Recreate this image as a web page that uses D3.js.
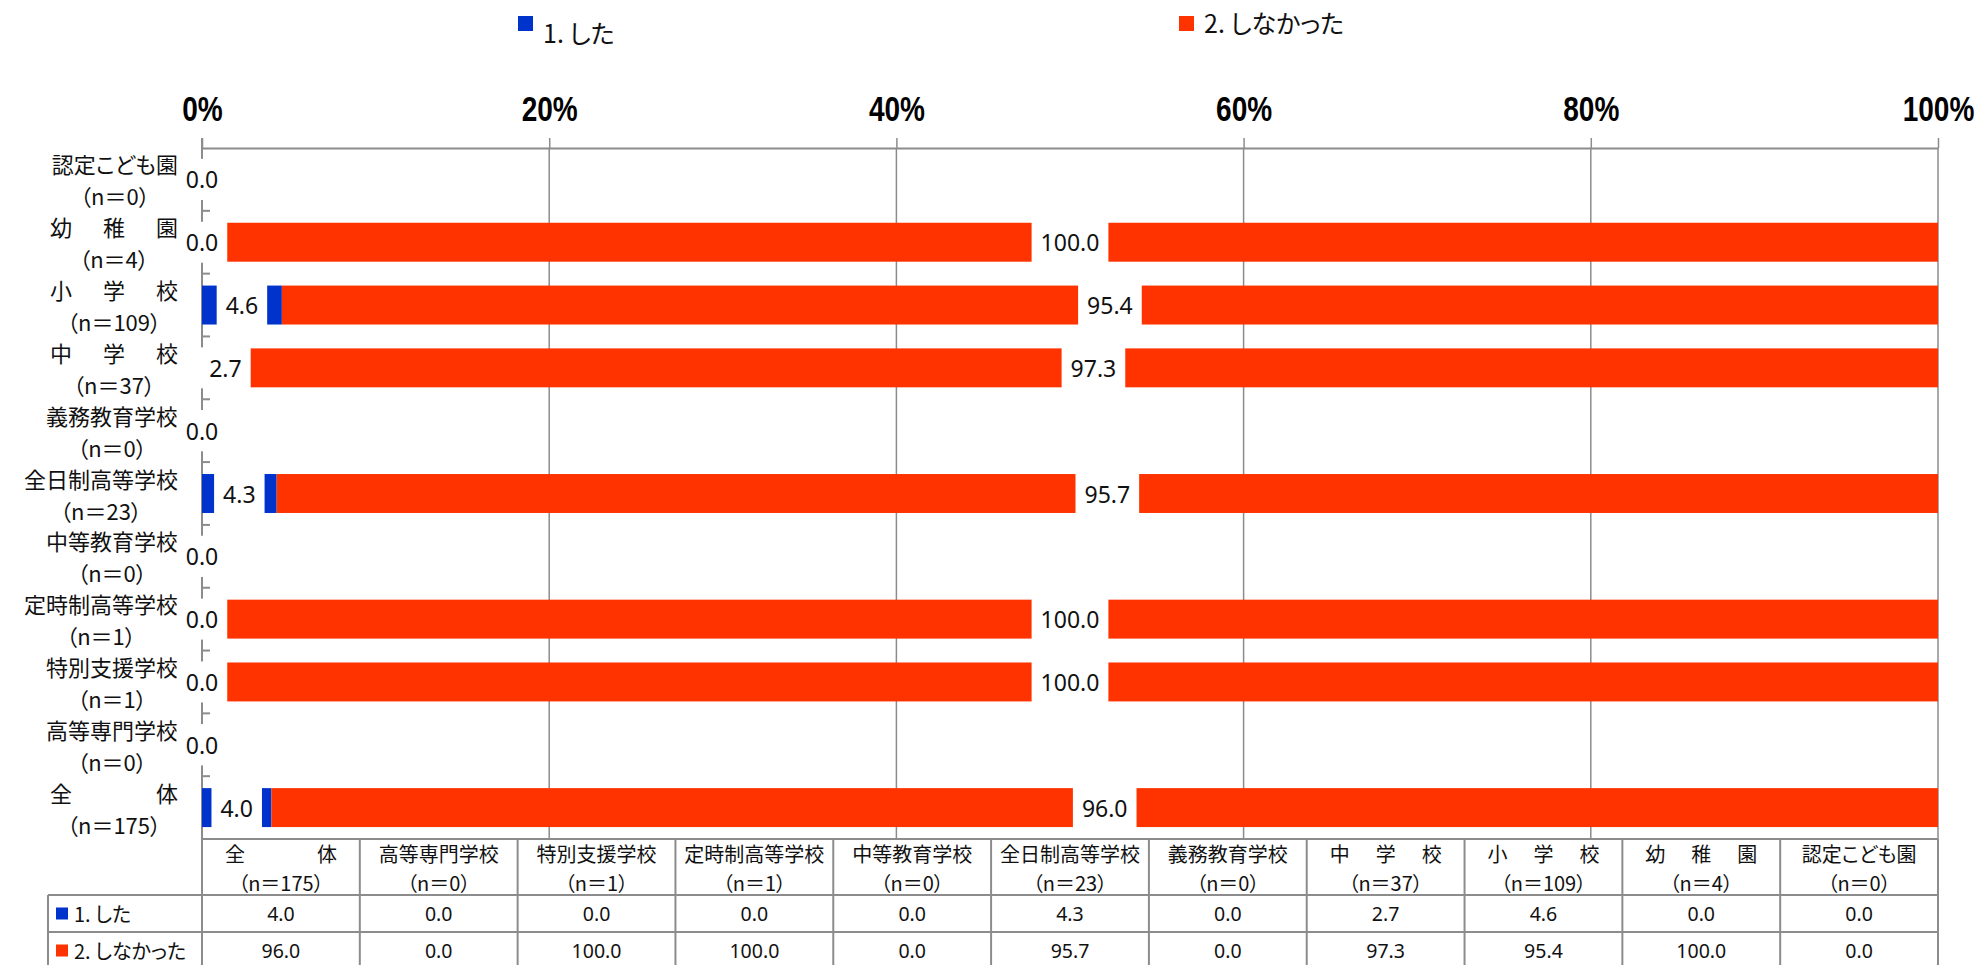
<!DOCTYPE html>
<html>
<head>
<meta charset="utf-8">
<script src="https://cdn.jsdelivr.net/npm/d3@7"></script>
<style>
  body { margin: 0; background: #fff; }
  svg { display: block; }
  text.jp { font-feature-settings: 'palt' 1; }
</style>
</head>
<body>
<svg id="chart"></svg>
<script>
// data, in the order of the data table (the chart draws it bottom -> top)
let categories = ['全　　体', '高等専門学校', '特別支援学校', '定時制高等学校', '中等教育学校',
                  '全日制高等学校', '義務教育学校', '中　学　校', '小　学　校', '幼　稚　園', '認定こども園']
let nLabels = ['（n＝175）', '（n＝0）', '（n＝1）', '（n＝1）', '（n＝0）',
               '（n＝23）', '（n＝0）', '（n＝37）', '（n＝109）', '（n＝4）', '（n＝0）']
let seriesNames = ['1. した', '2. しなかった']
let did = [4.0, 0.0, 0.0, 0.0, 0.0, 4.3, 0.0, 2.7, 4.6, 0.0, 0.0]
let didNot = [96.0, 0.0, 100.0, 100.0, 0.0, 95.7, 0.0, 97.3, 95.4, 100.0, 0.0]
let xTicks = [0, 20, 40, 60, 80, 100]

let colors = ['#0033cc', '#ff3300']
let gray = '#8c8c8c'
let jp = "'Noto Sans CJK JP', 'Noto Sans', sans-serif"
let num = "'Noto Sans', 'Noto Sans CJK JP', sans-serif"

let width = 1979
let height = 965
let plotLeft = 202
let plotRight = 1938
let plotTop = 148
let plotBottom = 839

let svg = d3.select('#chart')
            .attr('width', width)
            .attr('height', height)

let x = d3.scaleLinear()
          .domain([0, 100])
          .range([plotLeft, plotRight])

// first category at the bottom
let y = d3.scaleBand()
          .domain(categories.slice().reverse())
          .range([plotTop, plotBottom])
          .padding(0)

let col = d3.scaleBand()
            .domain(categories)
            .range([plotLeft, plotRight])
            .padding(0)

let barH = y.bandwidth() * 0.62
let barY = (c) => y(c) + (y.bandwidth() - barH) / 2

let jpText = (g, str, px, py, size) => {
    return g.append('text')
            .attr('class', 'jp')
            .attr('x', px)
            .attr('y', py)
            .attr('text-anchor', 'middle')
            .attr('dominant-baseline', 'central')
            .style('font-family', jp)
            .style('font-size', size + 'px')
            .attr('fill', '#111')
            .text(str)
}

// labels with full-width spaces are spread over spreadWidth
let isSpread = (text) => text.indexOf('　') >= 0

let drawLabel = (g, text, cx, cy, size, spreadWidth) => {
    if (isSpread(text)) {
        let chars = text.split('').filter(ch => ch !== '　')
        let step = (spreadWidth - size) / (chars.length - 1)
        chars.forEach((ch, i) => {
            jpText(g, ch, cx - spreadWidth / 2 + size / 2 + i * step, cy, size)
        })
    } else {
        jpText(g, text, cx, cy, size)
    }
}

let textWidth = (str, size) => {
    let t = jpText(svg, str, 0, 0, size)
    let w = t.node().getComputedTextLength()
    t.remove()
    return w
}

let drawLegend = () => {
    let items = [{x: 518, ty: 32}, {x: 1179, ty: 22}]
    items.forEach((it, i) => {
        svg.append('rect')
           .attr('x', it.x)
           .attr('y', 16)
           .attr('width', 15)
           .attr('height', 15)
           .attr('fill', colors[i])
        jpText(svg, seriesNames[i], it.x + 25, it.ty, 25)
           .attr('text-anchor', 'start')
    })
}

let drawGrid = () => {
    svg.append('g')
       .selectAll('line')
       .data(xTicks.slice(1))
       .enter()
       .append('line')
       .attr('x1', d => x(d))
       .attr('x2', d => x(d))
       .attr('y1', plotTop)
       .attr('y2', plotBottom)
       .attr('stroke', gray)
       .attr('stroke-width', 1.5)

    let xAxis = d3.axisTop(x)
                  .tickValues(xTicks)
                  .tickFormat(d => d + '%')
                  .tickSize(10)
                  .tickSizeOuter(0)
                  .tickPadding(17)

    let gx = svg.append('g')
                .attr('transform', 'translate(0, ' + plotTop + ')')
                .call(xAxis)
    gx.select('.domain').attr('stroke', gray).attr('stroke-width', 2)
    gx.selectAll('.tick line').attr('stroke', gray).attr('stroke-width', 1.5)
    // narrow bold look: squeeze a bold sans horizontally
    gx.selectAll('.tick text')
      .attr('fill', '#000')
      .attr('transform', 'scale(0.8, 1)')
      .style('font-family', "'Liberation Sans', Arial, sans-serif")
      .style('font-weight', 'bold')
      .style('font-size', '35px')

    // category axis
    svg.append('line')
       .attr('x1', plotLeft)
       .attr('x2', plotLeft)
       .attr('y1', plotTop - 10)
       .attr('y2', plotBottom)
       .attr('stroke', gray)
       .attr('stroke-width', 2)

    svg.append('g')
       .selectAll('line')
       .data(y.domain().slice(1))
       .enter()
       .append('line')
       .attr('x1', plotLeft)
       .attr('x2', plotLeft + 8)
       .attr('y1', d => y(d))
       .attr('y2', d => y(d))
       .attr('stroke', gray)
       .attr('stroke-width', 2)

    let size = 22
    let spread = 128
    let gl = svg.append('g')
    categories.forEach((c, i) => {
        let cy = y(c) + y.bandwidth() / 2
        let w1 = isSpread(c) ? spread : textWidth(c, size)
        let w2 = textWidth(nLabels[i], size)
        let cx = 178 - Math.max(w1, w2) / 2
        drawLabel(gl, c, cx, cy - 16, size, spread)
        drawLabel(gl, nLabels[i], cx, cy + 16, size, 0)
    })
}

let drawBars = () => {
    let rows = categories.map((c, i) => ({c: c, v: [did[i], didNot[i]]}))
    let segs = []
    rows.forEach(r => {
        let start = 0
        r.v.forEach((v, s) => {
            segs.push({c: r.c, s: s, x0: start, v: v})
            start += v
        })
    })

    svg.append('g')
       .selectAll('rect')
       .data(segs)
       .enter()
       .append('rect')
       .attr('x', d => x(d.x0))
       .attr('width', d => x(d.x0 + d.v) - x(d.x0))
       .attr('y', d => barY(d.c))
       .attr('height', barH)
       .attr('fill', d => colors[d.s])

    let gLab = svg.append('g')
    segs.forEach(d => {
        let cx = x(d.x0 + d.v / 2)
        let cy = y(d.c) + y.bandwidth() / 2
        let g = gLab.append('g')
        let box = g.append('rect').attr('fill', '#fff')
        let t = g.append('text')
                 .attr('x', cx)
                 .attr('y', cy)
                 .attr('text-anchor', 'middle')
                 .attr('dominant-baseline', 'central')
                 .style('font-family', num)
                 .style('font-size', '23px')
                 .attr('fill', '#111')
                 .text(d.v.toFixed(1))
        let w = t.node().getComputedTextLength() + 18
        box.attr('x', cx - w / 2)
           .attr('y', barY(d.c) - 1)
           .attr('width', w)
           .attr('height', barH + 2)
    })
}

let drawTable = () => {
    let hTop = plotBottom
    let r1 = 895
    let r2 = 932
    let r3 = 969
    let g = svg.append('g')

    let line = (x1, y1, x2, y2) => {
        g.append('line')
         .attr('x1', x1).attr('y1', y1)
         .attr('x2', x2).attr('y2', y2)
         .attr('stroke', gray)
         .attr('stroke-width', 2)
    }

    line(plotLeft, hTop, plotRight, hTop)
    line(48, r1, plotRight, r1)
    line(48, r2, plotRight, r2)
    line(48, r3, plotRight, r3)
    line(48, r1, 48, r3)
    categories.forEach(c => line(col(c), hTop, col(c), r3))
    line(plotRight, hTop, plotRight, r3)

    categories.forEach((c, i) => {
        let cx = col(c) + col.bandwidth() / 2
        drawLabel(g, c, cx, hTop + 14, 20, 112)
        drawLabel(g, nLabels[i], cx, hTop + 43, 20, 0)
        ;[did[i], didNot[i]].forEach((v, s) => {
            g.append('text')
             .attr('x', cx)
             .attr('y', (s === 0 ? r1 : r2) + 18.5)
             .attr('text-anchor', 'middle')
             .attr('dominant-baseline', 'central')
             .style('font-family', num)
             .style('font-size', '19.5px')
             .attr('fill', '#111')
             .text(v.toFixed(1))
        })
    })

    seriesNames.forEach((name, s) => {
        let cy = (s === 0 ? r1 : r2) + 18.5
        g.append('rect')
         .attr('x', 56)
         .attr('y', cy - 6)
         .attr('width', 12)
         .attr('height', 12)
         .attr('fill', colors[s])
        jpText(g, name, 74, cy, 20).attr('text-anchor', 'start')
    })
}

drawLegend()
drawGrid()
drawBars()
drawTable()
</script>
</body>
</html>
